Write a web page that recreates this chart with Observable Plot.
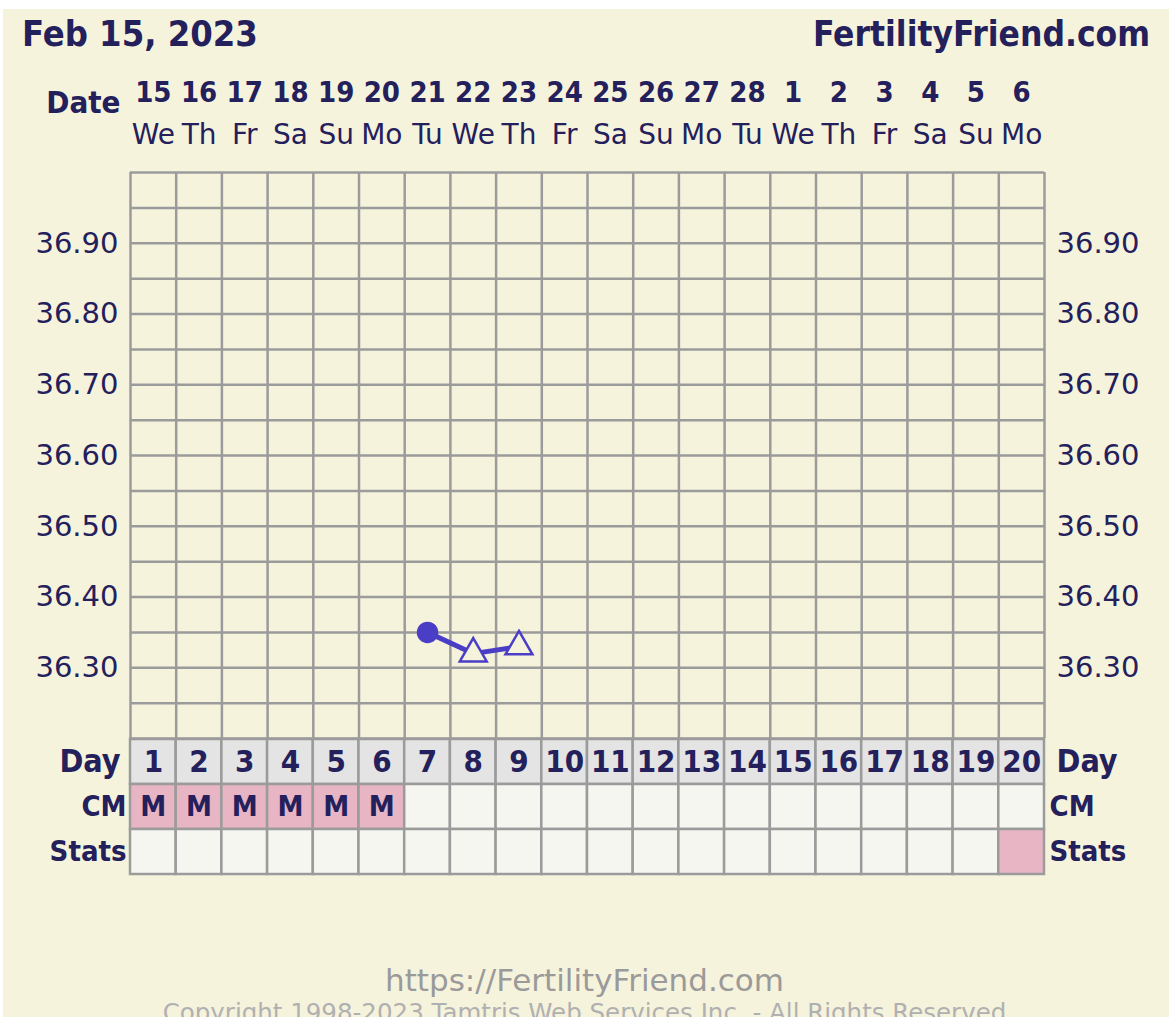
<!DOCTYPE html>
<html><head><meta charset="utf-8">
<script src="https://cdn.jsdelivr.net/npm/d3@7"></script>
<script src="https://cdn.jsdelivr.net/npm/@observablehq/plot@0.6"></script>
<style>
html,body{margin:0;padding:0;background:#fff;}
#wrap{position:relative;width:1169px;height:1017px;overflow:hidden;background:#fff;}
#bg{position:absolute;left:3px;top:9px;right:0;bottom:0;background:#f6f3dd;}
.hdr{position:absolute;top:16px;font:bold 36px "DejaVu Sans Condensed","DejaVu Sans",sans-serif;font-stretch:condensed;color:#23205c;line-height:36px;white-space:nowrap;}
#chart,#table{position:absolute;left:0;}
#chart{top:60px;}
#table{top:737px;}
.foot{position:absolute;left:0;width:1169px;text-align:center;font-family:"DejaVu Sans",sans-serif;white-space:nowrap;}
</style></head><body>
<div id="wrap">
  <div id="bg"></div>
  <div class="hdr" style="left:22px">Feb 15, 2023</div>
  <div class="hdr" style="right:19px;font-size:35px">FertilityFriend.com</div>
  <div id="chart"></div>
  <div id="table"></div>
  <div class="foot" style="top:961px;font-size:31px;color:#9a9a9a;line-height:38px">https://FertilityFriend.com</div>
  <div class="foot" style="top:998px;font-size:24.5px;color:#b0b0b0;line-height:30px">Copyright 1998-2023 Tamtris Web Services Inc. - All Rights Reserved</div>
</div>
<script>
// ---- data ----
const cycleDays = [1,2,3,4,5,6,7,8,9,10,11,12,13,14,15,16,17,18,19,20];
const dateNums = ["15","16","17","18","19","20","21","22","23","24","25","26","27","28","1","2","3","4","5","6"];
const weekdays = ["We","Th","Fr","Sa","Su","Mo","Tu","We","Th","Fr","Sa","Su","Mo","Tu","We","Th","Fr","Sa","Su","Mo"];
const tempDays = [7, 8, 9];
const temps = [36.35, 36.32, 36.33];
const tempMarkers = ["circle", "triangle", "triangle"];
const cmDays = [1, 2, 3, 4, 5, 6];
const cmCodes = ["M", "M", "M", "M", "M", "M"];
const statsDays = [20];
const yTickValues = [36.30, 36.40, 36.50, 36.60, 36.70, 36.80, 36.90];
const yTickLabels = ["36.30", "36.40", "36.50", "36.60", "36.70", "36.80", "36.90"];
const gridTemps = [36.20, 36.25, 36.30, 36.35, 36.40, 36.45, 36.50, 36.55, 36.60, 36.65, 36.70, 36.75, 36.80, 36.85, 36.90, 36.95, 37.00];
const rowNames = ["Day", "CM", "Stats"];

// ---- styles ----
const NAVY = "#23205c", GRID = "#9b9b9b", BLUE = "#4a3ec6", CREAM = "#f6f3dd";
const PINK = "#e8b5c4", DAYFILL = "#e4e4e4", CELLFILL = "#f6f6f1";
const SANS = "DejaVu Sans, sans-serif";
const BOLD = "DejaVu Sans Condensed, DejaVu Sans, sans-serif";
const W = 1169, ML = 130, MR = 125;
const xDomain = [0.5, cycleDays.length + 0.5];
const edges = cycleDays.map(d => d - 0.5).concat([cycleDays.length + 0.5]);

const tempData = tempDays.map((d, i) => ({day: d, temp: temps[i], marker: tempMarkers[i]}));
const dateData = cycleDays.map((d, i) => ({day: d, num: dateNums[i], wd: weekdays[i]}));

const chart = Plot.plot({
  width: W, height: 678,
  marginLeft: ML, marginRight: MR, marginTop: 112, marginBottom: 0,
  style: {background: "transparent", overflow: "visible"},
  x: {domain: xDomain, axis: null},
  y: {domain: [36.20, 37.00], axis: null},
  marks: [
    Plot.ruleY(gridTemps, {stroke: GRID, strokeWidth: 2.5}),
    Plot.ruleX(edges, {stroke: GRID, strokeWidth: 2.5}),
    Plot.text(yTickValues, {y: d => d, text: (d, i) => yTickLabels[i], frameAnchor: "left", textAnchor: "end", dx: -12,
      fontSize: 29, fontFamily: SANS, fill: NAVY}),
    Plot.text(yTickValues, {y: d => d, text: (d, i) => yTickLabels[i], frameAnchor: "right", textAnchor: "start", dx: 12,
      fontSize: 29, fontFamily: SANS, fill: NAVY}),
    Plot.text(dateData, {x: "day", text: "num", frameAnchor: "top", dy: -80, lineAnchor: "middle",
      fontSize: 29, fontWeight: "bold", fontFamily: BOLD, fill: NAVY}),
    Plot.text(dateData, {x: "day", text: "wd", frameAnchor: "top", dy: -37, lineAnchor: "middle",
      fontSize: 28, fontFamily: SANS, fill: NAVY}),
    Plot.text(["Date"], {frameAnchor: "top-left", textAnchor: "end", dx: -10, dy: -69, lineAnchor: "middle",
      fontSize: 31, fontWeight: "bold", fontFamily: BOLD, fill: NAVY}),
    Plot.line(tempData, {x: "day", y: "temp", stroke: BLUE, strokeWidth: 5}),
    Plot.dot(tempData.filter(d => d.marker === "circle"), {x: "day", y: "temp", r: 10, fill: BLUE, stroke: BLUE}),
    Plot.dot(tempData.filter(d => d.marker === "triangle"), {x: "day", y: "temp", r: 10, symbol: "triangle",
      fill: CREAM, stroke: BLUE, strokeWidth: 2.5})
  ]
});
document.getElementById("chart").appendChild(chart);

const cells = [];
cycleDays.forEach(d => {
  cells.push({day: d, row: "Day", fill: DAYFILL, label: String(d)});
  const ci = cmDays.indexOf(d);
  cells.push({day: d, row: "CM", fill: ci >= 0 ? PINK : CELLFILL, label: ci >= 0 ? cmCodes[ci] : ""});
  cells.push({day: d, row: "Stats", fill: statsDays.includes(d) ? PINK : CELLFILL, label: ""});
});

const table = Plot.plot({
  width: W, height: 138,
  marginLeft: ML, marginRight: MR, marginTop: 1, marginBottom: 1,
  style: {background: "transparent", overflow: "visible"},
  x: {domain: xDomain, axis: null},
  y: {domain: rowNames, axis: null, padding: 0},
  marks: [
    Plot.barX(cells, {x1: d => d.day - 0.5, x2: d => d.day + 0.5, y: "row", fill: "fill", stroke: GRID, strokeWidth: 2.5, inset: 0}),
    Plot.text(cells.filter(c => c.row === "Day"), {x: "day", y: "row", text: "label",
      fontSize: 31, fontWeight: "bold", fontFamily: BOLD, fill: NAVY}),
    Plot.text(cells.filter(c => c.row === "CM"), {x: "day", y: "row", text: "label",
      fontSize: 29, fontWeight: "bold", fontFamily: BOLD, fill: NAVY}),
    Plot.text(["Day"], {y: d => d, text: d => d, frameAnchor: "left", textAnchor: "end", dx: -10,
      fontSize: 32, fontWeight: "bold", fontFamily: BOLD, fill: NAVY}),
    Plot.text(["Day"], {y: d => d, text: d => d, frameAnchor: "right", textAnchor: "start", dx: 12,
      fontSize: 32, fontWeight: "bold", fontFamily: BOLD, fill: NAVY}),
    Plot.text(["CM", "Stats"], {y: d => d, text: d => d, frameAnchor: "left", textAnchor: "end", dx: -4,
      fontSize: 29, fontWeight: "bold", fontFamily: BOLD, fill: NAVY}),
    Plot.text(["CM", "Stats"], {y: d => d, text: d => d, frameAnchor: "right", textAnchor: "start", dx: 5,
      fontSize: 29, fontWeight: "bold", fontFamily: BOLD, fill: NAVY})
  ]
});
document.getElementById("table").appendChild(table);
</script>
</body></html>
